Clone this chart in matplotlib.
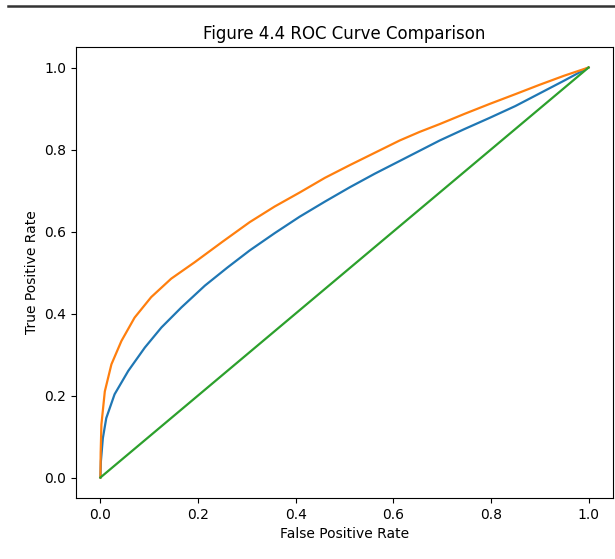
import matplotlib
matplotlib.use('Agg')
from matplotlib import pyplot as plt
from matplotlib.lines import Line2D

# courbes ROC
fpr_a = [0.0, 0.001, 0.005, 0.012, 0.029, 0.057, 0.091, 0.125, 0.166, 0.214, 0.26, 0.306, 0.357,
         0.408, 0.46, 0.511, 0.562, 0.613, 0.654, 0.695, 0.746, 0.797, 0.85, 0.90, 0.95, 1.0]
tpr_a = [0.0, 0.04, 0.096, 0.145, 0.203, 0.26, 0.317, 0.366, 0.415, 0.468, 0.512, 0.554, 0.596,
         0.636, 0.673, 0.708, 0.741, 0.772, 0.797, 0.822, 0.850, 0.877, 0.906, 0.937, 0.968, 1.0]

fpr_b = [0.0, 0.0005, 0.002, 0.009, 0.0225, 0.043, 0.070, 0.104, 0.145, 0.193, 0.25, 0.306, 0.357,
         0.408, 0.46, 0.511, 0.562, 0.613, 0.654, 0.695, 0.746, 0.797, 0.85, 0.90, 0.95, 1.0]
tpr_b = [0.0, 0.06, 0.129, 0.21, 0.276, 0.333, 0.39, 0.44, 0.485, 0.525, 0.575, 0.623, 0.661,
         0.695, 0.731, 0.762, 0.792, 0.822, 0.843, 0.862, 0.887, 0.911, 0.935, 0.958, 0.980, 1.0]

fpr_rand = [0.0, 1.0]
tpr_rand = [0.0, 1.0]

fig = plt.figure(figsize=(6.15, 5.59), dpi=100)
ax = fig.add_axes([0.1236, 0.1091, 0.8731, 0.8068])
ax.plot(fpr_a, tpr_a, color='C0', lw=1.6)
ax.plot(fpr_b, tpr_b, color='C1', lw=1.6)
ax.plot(fpr_rand, tpr_rand, color='C2', lw=1.6)
ax.set_xticks([0.0, 0.2, 0.4, 0.6, 0.8, 1.0])
ax.set_yticks([0.0, 0.2, 0.4, 0.6, 0.8, 1.0])
ax.set_xlabel('False Positive Rate')
ax.set_ylabel('True Positive Rate')
ax.set_title('Figure 4.4 ROC Curve Comparison')

# trait horizontal en haut de la capture
fig.add_artist(Line2D([8/615, 1.0], [1-6/559, 1-6/559], transform=fig.transFigure,
                      color='#333333', lw=1.8))

plt.savefig('out.png')
plt.close(fig)
